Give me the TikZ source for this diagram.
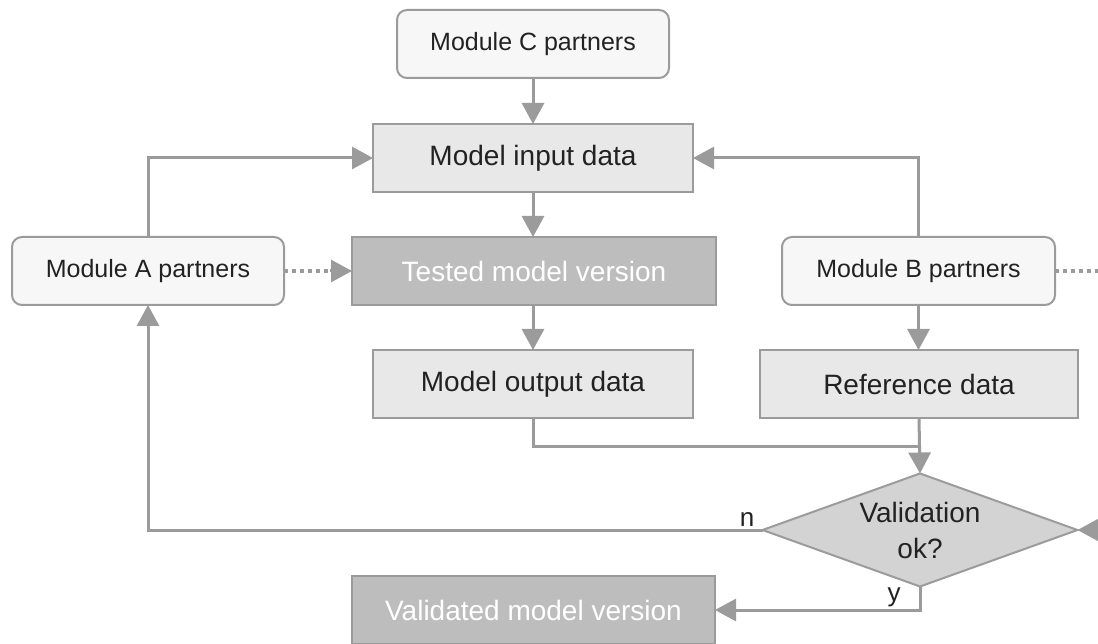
\documentclass[tikz,border=0pt]{standalone}
\usepackage{fontspec}
\setmainfont{Liberation Sans}
\usetikzlibrary{arrows.meta,shapes.geometric}
\definecolor{ln}{HTML}{9B9B9B}
\definecolor{lightfill}{HTML}{F7F7F7}
\definecolor{midfill}{HTML}{E8E8E8}
\definecolor{darkfill}{HTML}{BDBDBD}
\definecolor{diafill}{HTML}{D3D3D3}
\definecolor{txt}{HTML}{222222}
\tikzset{
  base/.style={draw=ln, line width=2pt, inner sep=0pt, outer sep=0pt, text=txt, align=center},
  partner/.style={base, rounded corners=10pt, fill=lightfill, minimum height=68pt, font=\fontsize{25}{30}\selectfont},
  databox/.style={base, fill=midfill, minimum height=68pt, minimum width=320pt, font=\fontsize{28}{34}\selectfont},
  modelbox/.style={base, fill=darkfill, minimum height=68pt, minimum width=364pt, text=white, font=\fontsize{28}{34}\selectfont},
  decision/.style={base, diamond, fill=diafill, minimum width=315pt, minimum height=113pt, aspect=2.79, font=\fontsize{28}{36}\selectfont},
  conn/.style={draw=ln, line width=3pt, -{Triangle[length=21pt,width=22pt]}},
  plainconn/.style={draw=ln, line width=3pt},
  dotconn/.style={draw=ln, line width=4pt, dash pattern=on 4pt off 4pt},
  lbl/.style={text=txt, font=\fontsize{26}{30}\selectfont, inner sep=0pt}
}
\begin{document}
\begin{tikzpicture}[x=1pt,y=-1pt]
\useasboundingbox (0,0) rectangle (1098,644);
\node[partner, minimum width=272pt] (C) at (533,44) {Module C partners};
\node[databox] (in) at (533,158) {Model input data};
\node[modelbox] (tested) at (534,271) {Tested model version};
\node[partner, minimum width=272pt] (A) at (148,271) {Module A partners};
\node[partner, minimum width=273pt] (B) at (918.5,271) {Module B partners};
\node[databox] (out) at (533,384) {Model output data};
\node[databox, minimum width=318pt] (ref) at (919,384) {Reference data};
\node[decision] (dec) at (920,530) {Validation\\ok?};
\node[modelbox, minimum width=363pt] (val) at (533.5,610) {Validated model version};
\coordinate (edgeB) at (1098,271);
\coordinate (edgeD) at (1098,530);
\coordinate (join) at (919,446);

\draw[conn] (C) -- (in);
\draw[conn] (in) -- (tested.north -| in);
\draw[conn] (tested.south -| out) -- (out);
\draw[conn] (A.north) |- (in.west);
\draw[conn] (B.north) |- (in.east);
\draw[conn] (B.south) -- (ref.north -| B.south);
\draw[plainconn] (out.south) |- (join);
\draw[conn] (ref.south) -- (dec.north);
\draw[conn] (dec.west) -| (A.south);
\draw[conn] (dec.south) |- (val.east);
\draw[dotconn] (A.east) -- ++(46,0);
\draw[conn] ([xshift=46pt]A.east) -- (tested.west);
\draw[dotconn] (B.east) -- (edgeB);
\draw[conn] (edgeD) -- (dec.east);
\node[lbl, anchor=base] (nl) at (747,526) {n};
\node[lbl, anchor=base] (yl) at (894,601) {y};
\end{tikzpicture}
\end{document}
